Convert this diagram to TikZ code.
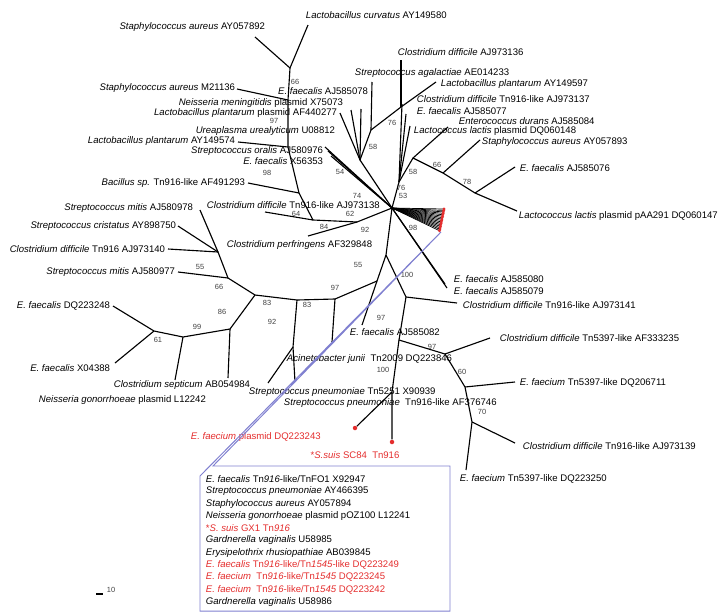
\documentclass[tikz,border=0pt]{standalone}
\usepackage{fontspec}
\setmainfont{Liberation Sans}
\usetikzlibrary{positioning}
\definecolor{hitred}{RGB}{228, 45, 45}
\definecolor{zoomblue}{RGB}{128, 128, 208}

\begin{document}
\begin{tikzpicture}[
    x=0.025cm, y=-0.025cm,
    % 分支样式
    branchline/.style={line width=0.8pt, black},
    % 分类单元标签
    taxon/.style={inner sep=0.5pt, font=\fontsize{6.8}{8}\selectfont},
    taxonred/.style={taxon, text=hitred},
    % 自展值
    bootval/.style={inner sep=0pt, font=\fontsize{5.3}{6}\selectfont, text=black!75},
    reddot/.style={circle, fill=hitred, inner sep=0pt, minimum size=3.2pt},
    callout/.style={zoomblue, line width=0.7pt},
]
\useasboundingbox (0,0) rectangle (718,613);

% ==================== 内部节点 ====================
\coordinate (hub) at (392,208);
\coordinate (n66a) at (290,68);
\coordinate (n97) at (288,100);
\coordinate (n98) at (288,147);
\coordinate (nbac) at (299,193);
\coordinate (n64) at (313,220);
\coordinate (n62) at (357,222);
\coordinate (n58a) at (360,160);
\coordinate (n76a) at (371,130);
\coordinate (n76b) at (401,107);
\coordinate (n53) at (399,182);
\coordinate (n58b) at (413,158);
\coordinate (n66b) at (443,173);
\coordinate (n78) at (475,193);
\coordinate (n92) at (386,255);
\coordinate (n55) at (377,281);
\coordinate (n100a) at (406,297);
\coordinate (n100b) at (399,340);
\coordinate (n97c) at (445,354);
\coordinate (n60) at (465,387);
\coordinate (n70) at (472,422);
\coordinate (n100c) at (392,392);
\coordinate (n97b) at (335,299);
\coordinate (n83b) at (297,300);
\coordinate (nspn) at (293,347);
\coordinate (n83a) at (255,295);
\coordinate (n86) at (230,329);
\coordinate (n99) at (183,337);
\coordinate (n61) at (154,331);
\coordinate (n66c) at (228,278);
\coordinate (n55b) at (218,252);

% ==================== 叶节点与标签 ====================
% 上方
\coordinate (lcurv-tip) at (308,25);
\node[taxon, anchor=west] (lcurv) at (305,15) {\textit{Lactobacillus curvatus} AY149580};
\coordinate (saur892-tip) at (255,37);
\node[taxon, anchor=east] (saur892) at (266,27) {\textit{Staphylococcus aureus} AY057892};
\coordinate (saur136-tip) at (237,89);
\node[taxon, anchor=east] (saur136) at (236,88) {\textit{Staphylococcus aureus} M21136};
\coordinate (lpl574-tip) at (238,142);
\node[taxon, anchor=east] (lpl574) at (236,141) {\textit{Lactobacillus plantarum} AY149574};
\coordinate (bacil-tip) at (248,183);
\node[taxon, anchor=east] (bacil) at (246,183) {\textit{Bacillus sp.} Tn916-like AF491293};
\coordinate (cd138-tip) at (265,212);
\node[taxon, anchor=west] (cd138) at (206,205) {\textit{Clostridium difficile} Tn916-like AJ973138};
\coordinate (cperf-tip) at (308,236);
\node[taxon, anchor=west] (cperf) at (226,245) {\textit{Clostridium perfringens} AF329848};
\coordinate (ureap-tip) at (325,147);
\node[taxon, anchor=east] (ureap) at (336,131) {\textit{Ureaplasma urealyticum} U08812};
\coordinate (soral-tip) at (328,151);
\node[taxon, anchor=east] (soral) at (324,151) {\textit{Streptococcus oralis} AJ580976};
\coordinate (ef353-tip) at (331,156);
\node[taxon, anchor=east] (ef353) at (324,161) {\textit{E. faecalis} X56353};
\coordinate (nmen-tip) at (351,110);
\node[taxon, anchor=east] (nmen) at (344,103) {\textit{Neisseria meningitidis} plasmid X75073};
\coordinate (lplpl-tip) at (340,113);
\node[taxon, anchor=east] (lplpl) at (338,113) {\textit{Lactobacillus plantarum} plasmid AF440277};
\coordinate (ef078-tip) at (361,109);
\node[taxon, anchor=east] (ef078) at (369,91) {\textit{E. faecalis} AJ585078};
\coordinate (sagal-tip) at (372,82);
\node[taxon, anchor=west] (sagal) at (354,73) {\textit{Streptococcus agalactiae} AE014233};
\coordinate (cd136-tip) at (401,60);
\node[taxon, anchor=west] (cd136) at (397,52) {\textit{Clostridium difficile} AJ973136};
\coordinate (lpl597-tip) at (436,82);
\node[taxon, anchor=west] (lpl597) at (440,84) {\textit{Lactobacillus plantarum} AY149597};

% 右上方
\coordinate (cd137-tip) at (402,104);
\node[taxon, anchor=west] (cd137) at (416,99) {\textit{Clostridium difficile} Tn916-like AJ973137};
\coordinate (ef077-tip) at (406,114);
\node[taxon, anchor=west] (ef077) at (416,111) {\textit{E. faecalis} AJ585077};
\coordinate (llac148-tip) at (410,126);
\node[taxon, anchor=west] (llac148) at (413,131) {\textit{Lactococcus lactis} plasmid DQ060148};
\coordinate (edur-tip) at (448,127);
\node[taxon, anchor=west] (edur) at (458,121) {\textit{Enterococcus durans} AJ585084};
\coordinate (saur893-tip) at (480,140);
\node[taxon, anchor=west] (saur893) at (481,142) {\textit{Staphylococcus aureus} AY057893};
\coordinate (ef076-tip) at (515,167);
\node[taxon, anchor=west] (ef076) at (519,168) {\textit{E. faecalis} AJ585076};
\coordinate (llac147-tip) at (517,211);
\node[taxon, anchor=west] (llac147) at (518,216) {\textit{Lactococcus lactis} plasmid pAA291 DQ060147};
\coordinate (ef080-tip) at (445,284);
\node[taxon, anchor=west] (ef080) at (453,279) {\textit{E. faecalis} AJ585080};
\coordinate (ef079-tip) at (447,288);
\node[taxon, anchor=west] (ef079) at (453,291) {\textit{E. faecalis} AJ585079};

% 右下方
\coordinate (cd141-tip) at (457,303);
\node[taxon, anchor=west] (cd141) at (462,305) {\textit{Clostridium difficile} Tn916-like AJ973141};
\coordinate (ef082-tip) at (362,325);
\node[taxon, anchor=west] (ef082) at (349,332) {\textit{E. faecalis} AJ585082};
\coordinate (cd235-tip) at (490,338);
\node[taxon, anchor=west] (cd235) at (499,338) {\textit{Clostridium difficile} Tn5397-like AF333235};
\coordinate (efm711-tip) at (515,382);
\node[taxon, anchor=west] (efm711) at (519,383) {\textit{E. faecium} Tn5397-like DQ206711};
\coordinate (cd139-tip) at (515,443);
\node[taxon, anchor=west] (cd139) at (522,446) {\textit{Clostridium difficile} Tn916-like AJ973139};
\coordinate (efm250-tip) at (466,470);
\node[taxon, anchor=west] (efm250) at (459,479) {\textit{E. faecium} Tn5397-like DQ223250};
\node[reddot] (ssuis-dot) at (392,442) {};
\node[taxonred] (ssuis) at (355,455) {*\textit{S.suis} SC84\ \ Tn916};
\node[reddot] (efm243-dot) at (355,428) {};
\node[taxonred, anchor=west] (efm243) at (190,437) {\textit{E. faecium} plasmid DQ223243};
\coordinate (ajun-tip) at (332,342);
\node[taxon, anchor=west] (ajun) at (286,359) {\textit{Acinetobacter junii}\ \ Tn2009 DQ223846};
\coordinate (spn251-tip) at (268,383);
\node[taxon, anchor=west] (spn251) at (248,392) {\textit{Streptococcus pneumoniae} Tn5251 X90939};
\coordinate (spn746-tip) at (295,382);
\node[taxon, anchor=west] (spn746) at (283,403) {\textit{Streptococcus pneumoniae}\ \ Tn916-like AF376746};

% 左方
\coordinate (smit978-tip) at (200,210);
\node[taxon, anchor=east] (smit978) at (194,208) {\textit{Streptococcus mitis} AJ580978};
\coordinate (scris-tip) at (178,226);
\node[taxon, anchor=east] (scris) at (177,226) {\textit{Streptococcus cristatus} AY898750};
\coordinate (cd140-tip) at (168,249);
\node[taxon, anchor=east] (cd140) at (166,249) {\textit{Clostridium difficile} Tn916 AJ973140};
\coordinate (smit977-tip) at (178,272);
\node[taxon, anchor=east] (smit977) at (176,272) {\textit{Streptococcus mitis} AJ580977};
\coordinate (ef248-tip) at (113,306);
\node[taxon, anchor=east] (ef248) at (111,306) {\textit{E. faecalis} DQ223248};
\coordinate (ef388-tip) at (115,363);
\node[taxon, anchor=east] (ef388) at (111,368) {\textit{E. faecalis} X04388};
\coordinate (csep-tip) at (228,378);
\node[taxon, anchor=east] (csep) at (251,385) {\textit{Clostridium septicum} AB054984};
\coordinate (ngo242-tip) at (175,380);
\node[taxon, anchor=west] (ngo242) at (38,400) {\textit{Neisseria gonorrhoeae} plasmid L12242};

% ==================== 分支 ====================
\draw[branchline] (n66a) -- (saur892-tip);
\draw[branchline] (n66a) -- (lcurv-tip);
\draw[branchline] (n66a) -- (n97) -- (n98) -- (nbac) -- (n64) -- (n62) -- (hub);
\draw[branchline] (n97) -- (saur136-tip);
\draw[branchline] (n98) -- (lpl574-tip);
\draw[branchline] (nbac) -- (bacil-tip);
\draw[branchline] (n64) -- (cd138-tip);
\draw[branchline] (n62) -- (cperf-tip);
\draw[branchline] (hub) -- (ureap-tip);
\draw[branchline] (hub) -- (soral-tip);
\draw[branchline] (hub) -- (ef353-tip);
\draw[branchline] (hub) -- (n58a) -- (n76a) -- (n76b) -- (lpl597-tip);
\draw[branchline] (n58a) -- (nmen-tip);
\draw[branchline] (n58a) -- (lplpl-tip);
\draw[branchline] (n58a) -- (ef078-tip);
\draw[branchline] (n76a) -- (sagal-tip);
\draw[branchline] (n76b) -- (cd136-tip);
\draw[branchline] (hub) -- (n53) -- (n58b) -- (n66b) -- (n78) -- (llac147-tip);
\draw[branchline] (n53) -- (cd137-tip);
\draw[branchline] (n53) -- (ef077-tip);
\draw[branchline] (n53) -- (llac148-tip);
\draw[branchline] (n58b) -- (edur-tip);
\draw[branchline] (n66b) -- (saur893-tip);
\draw[branchline] (n78) -- (ef076-tip);
\draw[branchline] (hub) -- (ef080-tip);
\draw[branchline] (hub) -- (ef079-tip);
\draw[branchline] (hub) -- (n92) -- (n55) -- (ef082-tip);
\draw[branchline] (n55) -- (n97b) -- (n83b) -- (n83a) -- (n66c) -- (n55b) -- (smit978-tip);
\draw[branchline] (n55b) -- (scris-tip);
\draw[branchline] (n55b) -- (cd140-tip);
\draw[branchline] (n66c) -- (smit977-tip);
\draw[branchline] (n83a) -- (n86) -- (n99) -- (n61) -- (ef248-tip);
\draw[branchline] (n61) -- (ef388-tip);
\draw[branchline] (n99) -- (ngo242-tip);
\draw[branchline] (n86) -- (csep-tip);
\draw[branchline] (n83b) -- (nspn) -- (spn251-tip);
\draw[branchline] (nspn) -- (spn746-tip);
\draw[branchline] (n97b) -- (ajun-tip);
\draw[branchline] (n92) -- (n100a) -- (cd141-tip);
\draw[branchline] (n100a) -- (n100b) -- (n97c) -- (n60) -- (n70) -- (efm250-tip);
\draw[branchline] (n97c) -- (cd235-tip);
\draw[branchline] (n60) -- (efm711-tip);
\draw[branchline] (n70) -- (cd139-tip);
\draw[branchline] (n100b) -- (n100c) -- (ssuis-dot);
\draw[branchline] (n100c) -- (efm243-dot);

% 放大的扇形分支
\foreach \k in {0,...,15}{
    \coordinate (fan\k) at ({444-0.3*\k},{209+1.45*\k});
    \draw[branchline, line width=0.5pt] (hub) -- (fan\k);
    \node[reddot, minimum size=2.2pt] (dot\k) at (fan\k) {};
}

% ==================== 自展值 ====================
\node[bootval] (bs1) at (295,82) {66};
\node[bootval] (bs2) at (274,121) {97};
\node[bootval] (bs3) at (267,173) {98};
\node[bootval] (bs4) at (296,214) {64};
\node[bootval] (bs5) at (324,227) {84};
\node[bootval] (bs6) at (350,214) {62};
\node[bootval] (bs7) at (357,196) {74};
\node[bootval] (bs8) at (340,172) {54};
\node[bootval] (bs9) at (373,147) {58};
\node[bootval] (bs10) at (392,123) {76};
\node[bootval] (bs11) at (401,188) {76};
\node[bootval] (bs12) at (403,196) {53};
\node[bootval] (bs13) at (413,172) {58};
\node[bootval] (bs14) at (437,165) {66};
\node[bootval] (bs15) at (467,182) {78};
\node[bootval] (bs16) at (365,230) {92};
\node[bootval] (bs17) at (413,228) {98};
\node[bootval] (bs18) at (358,265) {55};
\node[bootval] (bs19) at (407,275) {100};
\node[bootval] (bs20) at (335,288) {97};
\node[bootval] (bs21) at (307,305) {83};
\node[bootval] (bs22) at (267,303) {83};
\node[bootval] (bs23) at (272,322) {92};
\node[bootval] (bs24) at (222,312) {86};
\node[bootval] (bs25) at (219,287) {66};
\node[bootval] (bs26) at (200,267) {55};
\node[bootval] (bs27) at (197,327) {99};
\node[bootval] (bs28) at (158,340) {61};
\node[bootval] (bs29) at (381,318) {97};
\node[bootval] (bs30) at (383,370) {100};
\node[bootval] (bs31) at (432,347) {97};
\node[bootval] (bs32) at (462,372) {60};
\node[bootval] (bs33) at (482,412) {70};

% ==================== 放大框 ====================
\coordinate (zoomtip) at (441,232);
\coordinate (boxA) at (213,466);
\coordinate (boxB) at (450,466);
\coordinate (boxC) at (450,611);
\coordinate (boxD) at (200,611);
\coordinate (boxE) at (200,476);
\draw[callout] (zoomtip) -- (boxA) -- (boxB) -- (boxC) -- (boxD) -- (boxE) -- (zoomtip);

\node[taxon, anchor=west] (box1) at (205,479) {\textit{E. faecalis} Tn\textit{916}-like/TnFO1 X92947};
\node[taxon, anchor=west] (box2) at (205,491.3) {\textit{Streptococcus pneumoniae} AY466395};
\node[taxon, anchor=west] (box3) at (205,503.6) {\textit{Staphylococcus aureus} AY057894};
\node[taxon, anchor=west] (box4) at (205,515.9) {\textit{Neisseria gonorrhoeae} plasmid pOZ100 L12241};
\node[taxonred, anchor=west] (box5) at (205,528.2) {*\textit{S. suis} GX1 Tn\textit{916}};
\node[taxon, anchor=west] (box6) at (205,540.5) {\textit{Gardnerella vaginalis} U58985};
\node[taxon, anchor=west] (box7) at (205,552.8) {\textit{Erysipelothrix rhusiopathiae} AB039845};
\node[taxonred, anchor=west] (box8) at (205,565.1) {\textit{E. faecalis} Tn\textit{916}-like/Tn\textit{1545}-like DQ223249};
\node[taxonred, anchor=west] (box9) at (205,577.4) {\textit{E. faecium}\ \ Tn\textit{916}-like/Tn\textit{1545} DQ223245};
\node[taxonred, anchor=west] (box10) at (205,589.7) {\textit{E. faecium}\ \ Tn\textit{916}-like/Tn\textit{1545} DQ223242};
\node[taxon, anchor=west] (box11) at (205,602) {\textit{Gardnerella vaginalis} U58986};

% ==================== 比例尺 ====================
\coordinate (bar-l) at (96,594);
\coordinate (bar-r) at (103,594);
\draw[branchline] (bar-l) -- (bar-r);
\node[bootval] (barlab) at (111,590) {10};

\end{tikzpicture}
\end{document}
